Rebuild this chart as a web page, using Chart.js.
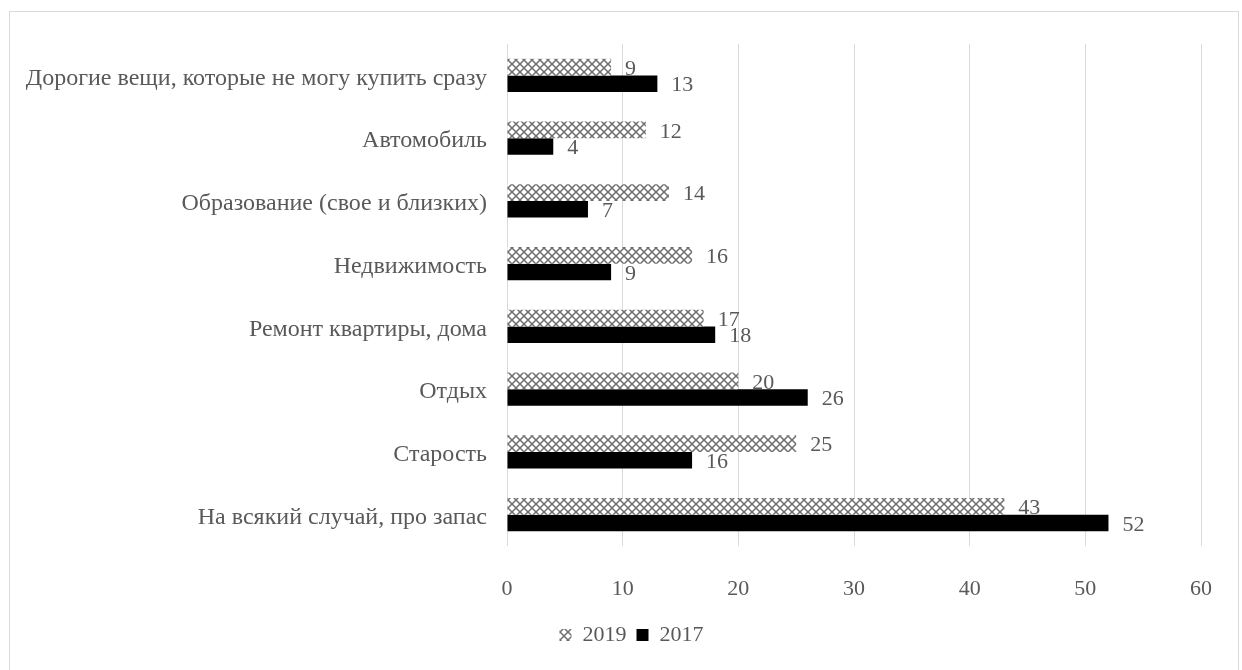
<!DOCTYPE html>
<html>
<head>
<meta charset="utf-8">
<script src="https://cdn.jsdelivr.net/npm/chart.js@4.4.1/dist/chart.umd.min.js"></script>
<style>
  html, body { margin: 0; padding: 0; background: #ffffff; }
  #wrap { position: relative; width: 1242px; height: 670px; overflow: hidden; }
  #frame { position: absolute; left: 9px; top: 11px; width: 1230px; height: 700px; border: 1px solid #d9d9d9; box-sizing: border-box; }
  canvas { position: absolute; left: 0; top: 0; }
</style>
</head>
<body>
<div id="wrap">
  <div id="frame"></div>
  <canvas id="c" width="1242" height="670"></canvas>
</div>
<script>
// Goals of savings, share of respondents (%)
const categories = [
  'Дорогие вещи, которые не могу купить сразу',
  'Автомобиль',
  'Образование (свое и близких)',
  'Недвижимость',
  'Ремонт квартиры, дома',
  'Отдых',
  'Старость',
  'На всякий случай, про запас'
];
const values2019 = [9, 12, 14, 16, 17, 20, 25, 43];
const values2017 = [13, 4, 7, 9, 18, 26, 16, 52];
const xTicks = [0, 10, 20, 30, 40, 50, 60];

const FONT = '"Liberation Serif", "Times New Roman", serif';
const TEXT = '#595959';

// cross-hatch fill for the 2019 series
function makeHatch() {
  const t = document.createElement('canvas');
  t.width = 8; t.height = 8;
  const g = t.getContext('2d');
  g.fillStyle = '#ffffff';
  g.fillRect(0, 0, 8, 8);
  g.strokeStyle = '#6e6e6e';
  g.lineWidth = 1.5;
  g.beginPath();
  g.moveTo(0, 0); g.lineTo(8, 8);
  g.moveTo(8, 0); g.lineTo(0, 8);
  g.stroke();
  return g.createPattern(t, 'repeat');
}
const hatch = makeHatch();

// value labels to the right of each bar
const valueLabels = {
  id: 'valueLabels',
  afterDatasetsDraw(chart) {
    const ctx = chart.ctx;
    ctx.save();
    ctx.font = '22px ' + FONT;
    ctx.fillStyle = TEXT;
    ctx.textAlign = 'left';
    ctx.textBaseline = 'middle';
    chart.data.datasets.forEach((ds, i) => {
      const meta = chart.getDatasetMeta(i);
      meta.data.forEach((bar, j) => {
        ctx.fillText(String(ds.data[j]), bar.x + 14, bar.y + 2);
      });
    });
    ctx.restore();
  }
};

// centre the legend under the plot rather than the whole canvas
const legendShift = {
  id: 'legendShift',
  afterLayout(chart) {
    if (chart.legend) {
      chart.legend.left += 30;
      chart.legend.right += 30;
    }
  }
};

new Chart(document.getElementById('c'), {
  type: 'bar',
  data: {
    labels: categories,
    datasets: [
      { label: '2019', data: values2019, backgroundColor: hatch, borderWidth: 0 },
      { label: '2017', data: values2017, backgroundColor: '#000000', borderWidth: 0 }
    ]
  },
  options: {
    indexAxis: 'y',
    responsive: false,
    animation: false,
    devicePixelRatio: 1,
    categoryPercentage: 0.53,
    barPercentage: 1.0,
    layout: { padding: { top: 44, right: 39, left: 0, bottom: 14 } },
    scales: {
      x: {
        min: 0, max: 60,
        afterBuildTicks(scale) { scale.ticks = xTicks.map(v => ({ value: v })); },
        afterFit(scale) { scale.height = 68; },
        grid: { color: '#d9d9d9', lineWidth: 1, drawTicks: false },
        border: { display: false },
        ticks: { font: { family: FONT, size: 22 }, color: TEXT, padding: 30 }
      },
      y: {
        afterFit(scale) { scale.width = 507; },
        grid: { display: false, drawTicks: false },
        border: { display: false },
        ticks: { font: { family: FONT, size: 24 }, color: TEXT, padding: 20, autoSkip: false, labelOffset: 3 }
      }
    },
    plugins: {
      legend: {
        position: 'bottom',
        labels: {
          font: { family: FONT, size: 22 },
          color: TEXT,
          boxWidth: 12,
          boxHeight: 12,
          padding: 10
        }
      },
      tooltip: { enabled: false }
    }
  },
  plugins: [valueLabels, legendShift]
});
</script>
</body>
</html>
